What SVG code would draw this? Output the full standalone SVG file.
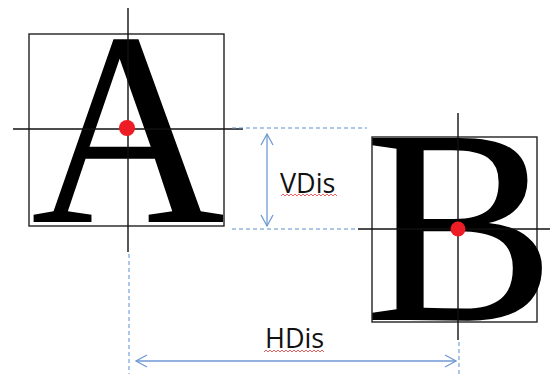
<svg xmlns="http://www.w3.org/2000/svg" width="550" height="374" viewBox="0 0 550 374">
<defs>
<style>
.box{fill:none;stroke:#222;stroke-width:1.4}
.cross{stroke:#111;stroke-width:1.4}
.dash{stroke:#5b8fd0;stroke-width:1;stroke-dasharray:4 3;fill:none}
.dim{stroke:#6f9ad3;stroke-width:1.3;fill:none}
.glyph{font-family:"Liberation Serif","Times New Roman",serif;font-weight:normal;fill:#000}
.lbl{font-family:"Open Sans","Liberation Sans",sans-serif;font-size:27px;fill:#111}
.dot{fill:#ee1c24}
.squig{stroke:#e05050;stroke-width:0.9;fill:none}
</style>
<marker id="chev" viewBox="-12 -7 14 14" markerWidth="14" markerHeight="14" refX="0" refY="0" orient="auto-start-reverse" markerUnits="userSpaceOnUse">
<path d="M-11,-6 L0,0 L-11,6" fill="none" stroke="#6f9ad3" stroke-width="1.3"/>
</marker>
</defs>
<rect width="550" height="374" fill="#fff"/>
<g id="nodeA">
<rect class="box" x="29" y="34" width="195" height="192"/>
<text class="glyph" x="128" y="222" font-size="277" text-anchor="middle" transform="translate(128 0) scale(0.97 1) translate(-128 0)">A</text>
<line class="cross" x1="128" y1="8" x2="128" y2="252"/>
<line class="cross" x1="13" y1="129" x2="243" y2="129"/>
<circle class="dot" cx="127" cy="128" r="8"/>
</g>
<g id="nodeB">
<rect class="box" x="372" y="137" width="165" height="185"/>
<text class="glyph" x="460" y="320" font-size="278" text-anchor="middle" transform="translate(460 0) scale(1.035 1) translate(-460 0)">B</text>
<line class="cross" x1="458" y1="113" x2="458" y2="340"/>
<line class="cross" x1="358" y1="229" x2="550" y2="229"/>
<circle class="dot" cx="458" cy="229" r="7.5"/>
</g>
<g id="connectors">
<line class="dash" x1="232" y1="128" x2="367" y2="128"/>
<line class="dash" x1="232" y1="229" x2="357" y2="229"/>
<line class="dash" x1="129" y1="254" x2="129" y2="374"/>
<line class="dash" x1="459" y1="342" x2="459" y2="374"/>
<line class="dim" x1="267" y1="134" x2="267" y2="226" marker-start="url(#chev)" marker-end="url(#chev)"/>
<line class="dim" x1="136" y1="361" x2="456" y2="361" marker-start="url(#chev)" marker-end="url(#chev)"/>
</g>
<g id="labels">
<text class="lbl" x="280" y="193">VDis</text>
<path class="squig" d="M281,196 l2,-2 l2,2 l2,-2 l2,2 l2,-2 l2,2 l2,-2 l2,2 l2,-2 l2,2 l2,-2 l2,2 l2,-2 l2,2 l2,-2 l2,2 l2,-2 l2,2 l2,-2 l2,2 l2,-2 l2,2 l2,-2 l2,2 l2,-2 l2,2 l2,-2 l2,2"/>
<text class="lbl" x="265" y="348">HDis</text>
<path class="squig" d="M264,352 l2,-2 l2,2 l2,-2 l2,2 l2,-2 l2,2 l2,-2 l2,2 l2,-2 l2,2 l2,-2 l2,2 l2,-2 l2,2 l2,-2 l2,2 l2,-2 l2,2 l2,-2 l2,2 l2,-2 l2,2 l2,-2 l2,2 l2,-2 l2,2 l2,-2 l2,2 l2,-2 l2,2"/>
</g>
</svg>
